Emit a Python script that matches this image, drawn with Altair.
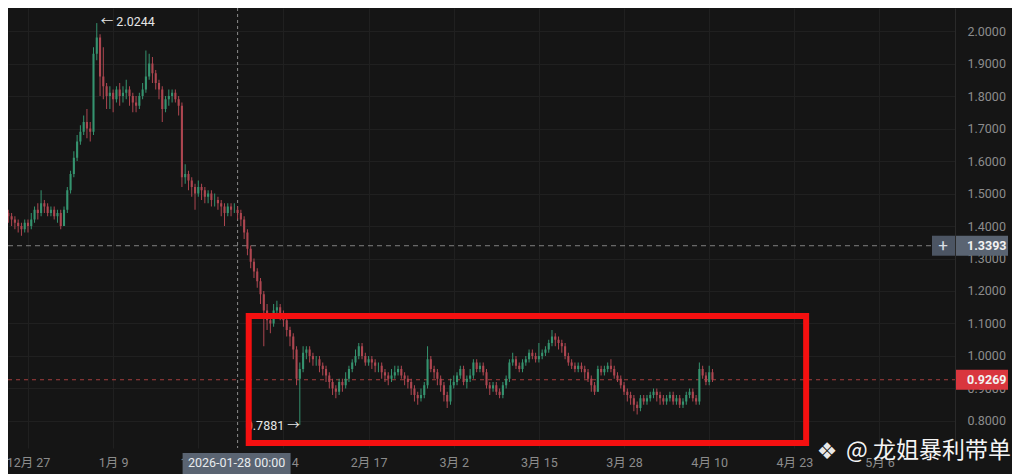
import altair as alt
import pandas as pd
import numpy as np

# ---------------- data (12-hour candles, day 0 = 12-27 00:00) ----------------
START_DAY = -4.0
STEP = 0.5
first_open = 1.47

closes = [
    1.46, 1.44, 1.43, 1.42, 1.41, 1.40, 1.39, 1.41, 1.40, 1.42,
    1.45, 1.44, 1.47, 1.46, 1.44, 1.45, 1.43, 1.44, 1.40, 1.45,
    1.51, 1.56, 1.61, 1.66, 1.69, 1.72, 1.70, 1.69, 1.93, 1.98,
    1.86, 1.83, 1.80, 1.81, 1.79, 1.82, 1.80, 1.81, 1.82, 1.80,
    1.78, 1.77, 1.80, 1.82, 1.86, 1.90, 1.87, 1.84, 1.82, 1.76,
    1.79, 1.80, 1.81, 1.79, 1.77, 1.55, 1.56, 1.54, 1.52, 1.50,
    1.52, 1.51, 1.49, 1.50, 1.48, 1.48, 1.47, 1.46, 1.44, 1.46,
    1.45, 1.45, 1.44, 1.42, 1.38, 1.33, 1.29, 1.26, 1.23, 1.19,
    1.14, 1.11, 1.10, 1.14, 1.15, 1.13, 1.11, 1.08, 1.06, 1.02,
    0.93, 0.96, 1.01, 1.02, 1.00, 0.99, 0.99, 0.97, 0.96, 0.94,
    0.92, 0.90, 0.89, 0.92, 0.91, 0.93, 0.96, 0.98, 1.00, 1.03,
    1.00, 0.98, 0.99, 0.98, 0.97, 0.97, 0.95, 0.94, 0.93, 0.94,
    0.95, 0.96, 0.94, 0.93, 0.92, 0.90, 0.88, 0.87, 0.88, 0.91,
    0.99, 0.96, 0.95, 0.93, 0.91, 0.88, 0.86, 0.91, 0.92, 0.94,
    0.96, 0.92, 0.93, 0.94, 0.98, 0.96, 0.97, 0.95, 0.91, 0.90,
    0.91, 0.89, 0.88, 0.91, 0.93, 0.98, 0.99, 0.97, 0.96, 0.98,
    0.99, 1.01, 1.00, 0.99, 1.00, 1.01, 1.02, 1.04, 1.06, 1.05,
    1.04, 1.03, 1.00, 0.98, 0.97, 0.96, 0.97, 0.96, 0.95, 0.93,
    0.91, 0.89, 0.96, 0.95, 0.96, 0.97, 0.96, 0.94, 0.93, 0.91,
    0.89, 0.88, 0.87, 0.85, 0.84, 0.87, 0.86, 0.87, 0.88, 0.89,
    0.88, 0.87, 0.86, 0.87, 0.88, 0.86, 0.87, 0.85, 0.86, 0.88,
    0.89, 0.87, 0.86, 0.96, 0.94, 0.92, 0.95, 0.9269,
]
highs = [
    1.49, 1.47, 1.45, 1.44, 1.43, 1.42, 1.41, 1.42, 1.42, 1.44,
    1.46, 1.47, 1.51, 1.48, 1.47, 1.46, 1.46, 1.45, 1.45, 1.46,
    1.52, 1.57, 1.63, 1.68, 1.71, 1.74, 1.76, 1.72, 1.95, 2.0244,
    1.99, 1.95, 1.84, 1.83, 1.82, 1.83, 1.84, 1.83, 1.85, 1.83,
    1.81, 1.80, 1.81, 1.84, 1.94, 1.93, 1.92, 1.88, 1.85, 1.83,
    1.80, 1.82, 1.82, 1.82, 1.80, 1.78, 1.59, 1.57, 1.55, 1.53,
    1.54, 1.53, 1.52, 1.51, 1.51, 1.50, 1.49, 1.48, 1.47, 1.47,
    1.47, 1.47, 1.46, 1.45, 1.43, 1.39, 1.34, 1.30, 1.27, 1.24,
    1.20, 1.16, 1.13, 1.16, 1.17, 1.16, 1.14, 1.12, 1.09, 1.07,
    1.03, 0.98, 1.03, 1.03, 1.03, 1.01, 1.00, 1.00, 0.98, 0.97,
    0.95, 0.93, 0.91, 0.93, 0.93, 0.95, 0.97, 0.99, 1.02, 1.04,
    1.04, 1.01, 1.00, 1.00, 0.99, 0.98, 0.98, 0.96, 0.95, 0.96,
    0.97, 0.97, 0.97, 0.95, 0.94, 0.93, 0.91, 0.89, 0.90, 0.92,
    1.03, 1.00, 0.97, 0.96, 0.94, 0.92, 0.89, 0.93, 0.94, 0.95,
    0.97, 0.97, 0.94, 0.96, 0.99, 0.99, 0.98, 0.98, 0.96, 0.92,
    0.92, 0.92, 0.90, 0.92, 0.94, 0.99, 1.01, 1.00, 0.98, 0.99,
    1.00, 1.02, 1.02, 1.01, 1.04, 1.02, 1.03, 1.05, 1.08, 1.07,
    1.06, 1.05, 1.04, 1.01, 0.99, 0.98, 0.98, 0.98, 0.97, 0.96,
    0.94, 0.92, 0.97, 0.97, 0.97, 0.98, 0.99, 0.97, 0.95, 0.94,
    0.92, 0.90, 0.89, 0.88, 0.86, 0.88, 0.88, 0.88, 0.89, 0.90,
    0.90, 0.89, 0.88, 0.88, 0.89, 0.89, 0.88, 0.88, 0.87, 0.89,
    0.90, 0.90, 0.88, 0.98, 0.97, 0.95, 0.97, 0.96,
]
lows = [
    1.45, 1.43, 1.41, 1.40, 1.39, 1.38, 1.37, 1.38, 1.38, 1.39,
    1.41, 1.42, 1.43, 1.44, 1.43, 1.43, 1.42, 1.41, 1.39, 1.40,
    1.44, 1.50, 1.55, 1.60, 1.65, 1.68, 1.67, 1.66, 1.68, 1.91,
    1.80, 1.79, 1.76, 1.76, 1.75, 1.78, 1.77, 1.78, 1.79, 1.77,
    1.75, 1.75, 1.76, 1.79, 1.81, 1.85, 1.84, 1.82, 1.79, 1.72,
    1.75, 1.77, 1.78, 1.78, 1.74, 1.52, 1.53, 1.51, 1.49, 1.45,
    1.49, 1.48, 1.47, 1.47, 1.46, 1.46, 1.45, 1.43, 1.40, 1.43,
    1.43, 1.44, 1.42, 1.40, 1.36, 1.31, 1.27, 1.24, 1.21, 1.16,
    1.03, 1.08, 1.07, 1.09, 1.12, 1.11, 1.09, 1.06, 1.03, 0.99,
    0.91, 0.7881, 0.95, 0.99, 0.98, 0.97, 0.97, 0.95, 0.94, 0.92,
    0.90, 0.88, 0.87, 0.88, 0.89, 0.90, 0.92, 0.95, 0.97, 0.99,
    0.99, 0.97, 0.97, 0.96, 0.95, 0.95, 0.93, 0.92, 0.91, 0.92,
    0.93, 0.94, 0.93, 0.91, 0.90, 0.88, 0.86, 0.85, 0.86, 0.87,
    0.90, 0.95, 0.93, 0.91, 0.89, 0.86, 0.84, 0.85, 0.90, 0.91,
    0.93, 0.91, 0.90, 0.92, 0.93, 0.95, 0.95, 0.94, 0.90, 0.88,
    0.89, 0.88, 0.87, 0.87, 0.90, 0.92, 0.97, 0.96, 0.95, 0.95,
    0.97, 0.98, 0.99, 0.98, 0.98, 0.99, 1.00, 1.01, 1.03, 1.03,
    1.02, 1.01, 0.99, 0.97, 0.96, 0.95, 0.95, 0.95, 0.93, 0.92,
    0.89, 0.88, 0.89, 0.94, 0.94, 0.95, 0.95, 0.93, 0.92, 0.90,
    0.88, 0.86, 0.85, 0.83, 0.82, 0.83, 0.85, 0.85, 0.86, 0.87,
    0.86, 0.85, 0.85, 0.85, 0.86, 0.85, 0.85, 0.84, 0.84, 0.85,
    0.87, 0.86, 0.85, 0.85, 0.93, 0.91, 0.91, 0.92,
]

tick_days = [0, 13, 26, 39, 52, 65, 78, 91, 104, 117, 130]
tick_labels = ["12月 27", "1月 9", "1月 22", "2月 4", "2月 17", "3月 2",
               "3月 15", "3月 28", "4月 10", "4月 23", "5月 6"]
price_ticks = [0.8, 0.9, 1.0, 1.1, 1.2, 1.3, 1.4, 1.5, 1.6, 1.7, 1.8, 1.9, 2.0]

cross_day = 32.0            # 2026-01-28 00:00
cross_label = "2026-01-28 00:00"
cross_price = 1.3393
last_price = closes[-1]

box_days = [33.7, 118.8]     # highlighted range
box_prices = [0.732, 1.123]

watermark = "@ 龙姐暴利带单"

# ---------------- build table ----------------
opens = [first_open] + closes[:-1]
days = [START_DAY + STEP * i for i in range(len(closes))]
df = pd.DataFrame({"t": days, "o": opens, "c": closes, "h": highs, "l": lows})
df["hi"] = df[["h", "o", "c"]].max(axis=1)
df["lo"] = df[["l", "o", "c"]].min(axis=1)
df["dir"] = np.where(df["c"] >= df["o"], "up", "down")

imax = int(np.argmax(highs))
imin = int(np.argmin(lows))

# ---------------- styling ----------------
W, H = 947, 440
BG = "#151515"
GREEN = "#35936f"
RED = "#ad4650"
AX = "#8c8c8c"
FONT = "Roboto, 'Noto Sans CJK SC', sans-serif"

xsc = alt.Scale(domain=[-3.053, 141.527], nice=False, zero=False)
ysc = alt.Scale(domain=[0.7169, 2.0708], nice=False, zero=False)

label_expr = "[" + ",".join(f"'{s}'" for s in tick_labels) + "][indexof([" + \
    ",".join(str(d) for d in tick_days) + "], datum.value)]"

xax = alt.Axis(values=tick_days, labelExpr=label_expr, title=None, grid=True,
               gridColor="#202020", domain=False, ticks=False, labelColor=AX,
               labelFontSize=12.5, labelFont=FONT, labelPadding=8,
               labelOverlap=False, labelFlush=False, labelBound=False)
yax = alt.Axis(values=price_ticks, format=".4f", orient="right", title=None,
               grid=True, gridColor="#202020", domain=True, domainColor="#2a2a2a",
               ticks=False, labelColor=AX, labelFontSize=12.5, labelFont=FONT,
               labelPadding=12, labelOverlap=False, labelFlush=False, labelBound=False)


def X(f):
    return alt.X(f, type="quantitative", scale=xsc, axis=xax)


def Y(f):
    return alt.Y(f, type="quantitative", scale=ysc, axis=yax)


color = alt.Color("dir:N", scale=alt.Scale(domain=["up", "down"], range=[GREEN, RED]), legend=None)

base = alt.Chart(df)
wicks = base.mark_rule(strokeWidth=1, clip=True).encode(x=X("t"), y=Y("lo"), y2="hi:Q", color=color)
bodies = base.mark_rule(strokeWidth=2.1, clip=True).encode(x=X("t"), y=Y("o"), y2="c:Q", color=color)

lines_df = pd.DataFrame({"day": [cross_day], "p": [cross_price], "last": [last_price]})
vline = alt.Chart(lines_df).mark_rule(color="#8a8a8a", strokeDash=[3, 3], strokeWidth=1).encode(x=X("day"))
hline = alt.Chart(lines_df).mark_rule(color="#9a9a9a", strokeDash=[5, 4], strokeWidth=1, opacity=0.8).encode(
    y=Y("p"), x=alt.value(0), x2=alt.value(W - 23))
pline = alt.Chart(lines_df).mark_rule(color="#c84848", strokeDash=[4, 4], strokeWidth=1, opacity=0.8).encode(
    y=Y("last"), x=alt.value(0), x2=alt.value(W))

box_df = pd.DataFrame({"d1": [box_days[0]], "d2": [box_days[1]], "p1": [box_prices[0]], "p2": [box_prices[1]]})
redbox = alt.Chart(box_df).mark_rect(fillOpacity=0, stroke="#f51010", strokeWidth=6).encode(
    x=X("d1"), x2="d2:Q", y=Y("p1"), y2="p2:Q")

ann_df = pd.DataFrame({
    "t": [df["t"][imax], df["t"][imin]],
    "v": [highs[imax], lows[imin]],
    "txt": [f"← {highs[imax]:.4f}", f"{lows[imin]:.4f} →"],
})
ann_hi = alt.Chart(ann_df.iloc[[0]]).mark_text(align="left", baseline="middle", dx=4, dy=-1,
                                               color="#e6e6e6", fontSize=12.5, font=FONT).encode(
    x=X("t"), y=Y("v"), text="txt:N")
ann_lo = alt.Chart(ann_df.iloc[[1]]).mark_text(align="right", baseline="middle", dx=0, dy=1,
                                               color="#e6e6e6", fontSize=12.5, font=FONT).encode(
    x=X("t"), y=Y("v"), text="txt:N")

# price tags on the right axis
tag_df = pd.DataFrame({"p": [cross_price, last_price],
                       "txt": [f"{cross_price:.4f}", f"{last_price:.4f}"],
                       "fill": ["#5a6472", "#d9363e"]})
tag_rect = alt.Chart(tag_df).mark_rect(yOffset=-10, y2Offset=10).encode(
    y=Y("p"), y2="p:Q", x=alt.value(W + 1), x2=alt.value(W + 53),
    color=alt.Color("fill:N", scale=None))
tag_txt = alt.Chart(tag_df).mark_text(align="left", baseline="middle", fontSize=12.5, font=FONT,
                                      fontWeight="bold", color="#f2f2f2").encode(
    y=Y("p"), x=alt.value(W + 12), text="txt:N")
plus_rect = alt.Chart(tag_df.iloc[[0]]).mark_rect(yOffset=-10, y2Offset=10, color="#4c5563").encode(
    y=Y("p"), y2="p:Q", x=alt.value(W - 23), x2=alt.value(W))
plus_txt = alt.Chart(tag_df.iloc[[0]]).mark_text(text="+", align="center", baseline="middle",
                                                 fontSize=17, color="#d8dde3", font=FONT).encode(
    y=Y("p"), x=alt.value(W - 12))

# crosshair date tag
date_df = pd.DataFrame({"day": [cross_day], "txt": [cross_label]})
date_rect = alt.Chart(date_df).mark_rect(xOffset=-55, x2Offset=53, color="#5a6472").encode(
    x=X("day"), x2="day:Q", y=alt.value(H + 5), y2=alt.value(H + 26))
date_txt = alt.Chart(date_df).mark_text(align="center", baseline="middle", dx=-1, fontSize=12.5,
                                        font=FONT, color="#e8ebee").encode(
    x=X("day"), y=alt.value(H + 15), text="txt:N")

# watermark
wm_df = pd.DataFrame({"txt": [watermark], "logo": ["❖"]})
wm_txt = alt.Chart(wm_df).mark_text(align="left", baseline="middle", fontSize=23,
                                    font="'Noto Sans CJK SC'", color="#f4f4f4").encode(
    x=alt.value(838), y=alt.value(H + 3), text="txt:N")
wm_logo = alt.Chart(wm_df).mark_text(align="center", baseline="middle", fontSize=23,
                                     font="DejaVu Sans", color="#e8e8e8").encode(
    x=alt.value(819), y=alt.value(H + 4), text="logo:N")

chart = alt.layer(
    vline, hline, pline, wicks, bodies, ann_hi, ann_lo, redbox,
    plus_rect, plus_txt, tag_rect, tag_txt, date_rect, date_txt, wm_logo, wm_txt
).properties(
    width=W, height=H,
    autosize=alt.AutoSizeParams(type="none"),
    padding={"left": 0, "top": 0, "right": 57, "bottom": 26},
    background=BG,
).configure_view(stroke=None, fill=BG)

chart.save("out.html", embed_options={"renderer": "svg", "actions": False})
